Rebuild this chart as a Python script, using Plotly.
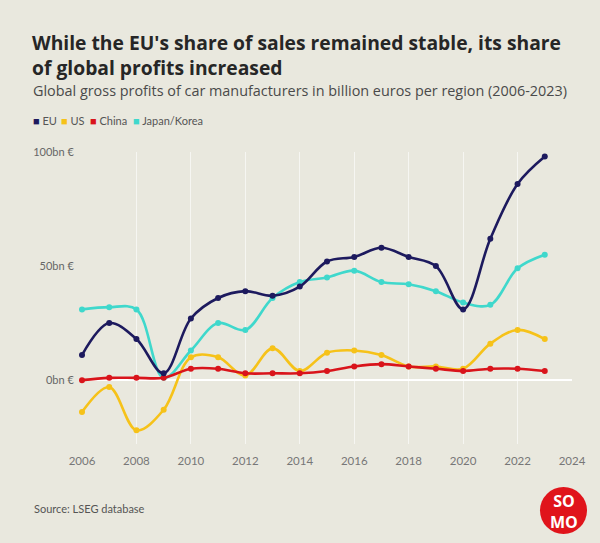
import plotly.graph_objects as go

years = list(range(2006, 2024))
eu = [11, 25, 18, 3, 27, 36, 39, 37, 41, 52, 54, 58, 54, 50, 31, 62, 86, 98]
us = [-14, -3, -22, -13, 10, 10, 2, 14, 4, 12, 13, 11, 6, 6, 5, 16, 22, 18]
china = [0, 1, 1, 1, 5, 5, 3, 3, 3, 4, 6, 7, 6, 5, 4, 5, 5, 4]
japan_korea = [31, 32, 31, 1, 13, 25, 22, 36, 43, 45, 48, 43, 42, 39, 34, 33, 49, 55]

y_ticks = [0, 50, 100]
y_labels = ["0bn €", "50bn €", "100bn €"]

colors = {"EU": "#1d1a5e", "US": "#f6c219", "China": "#d9141b", "Japan/Korea": "#3fd8cc"}
bg = "#e9e8de"
font = "Lato"
title_font = "Open Sans"

# plot area in pixels (600x543 page)
L, R, T, B = 82, 572, 152, 444
W, H = 600, 543


def px(x):
    return (x - L) / (R - L)


def py(y):
    return (B - y) / (B - T)


fig = go.Figure()
for name, vals in [("Japan/Korea", japan_korea), ("US", us), ("China", china), ("EU", eu)]:
    fig.add_trace(go.Scatter(
        x=years, y=vals, name=name, mode="lines+markers",
        line=dict(color=colors[name], width=2.6, shape="spline", smoothing=1),
        marker=dict(color=colors[name], size=6),
        cliponaxis=False, showlegend=False,
    ))

annotations = [
    dict(text="Global gross profits of car manufacturers in billion euros per region (2006-2023)",
         x=px(31), y=py(91), xanchor="left", yanchor="middle",
         font=dict(family=title_font, size=14.4, color="#4a4a4a")),
    dict(text="Source: LSEG database", x=px(32), y=py(508), xanchor="left", yanchor="middle",
         font=dict(family=font, size=11, color="#555555")),
    dict(text="<b>SO<br>MO</b>", x=px(563.5), y=py(511), xanchor="center", yanchor="middle",
         font=dict(family=title_font, size=16, color="white")),
]

# legend as coloured squares + labels
legend_pos = [("EU", 35), ("US", 63), ("China", 92), ("Japan/Korea", 135)]
for name, x0 in legend_pos:
    annotations.append(dict(
        text=f"<span style='color:{colors[name]}'>■</span> {name}",
        x=px(x0 - 4), y=py(121), xanchor="left", yanchor="middle",
        font=dict(family=font, size=11, color="#555555"),
    ))

for a in annotations:
    a.update(xref="paper", yref="paper", showarrow=False)

fig.update_layout(
    width=W, height=H,
    margin=dict(l=L, r=W - R, t=T, b=H - B),
    paper_bgcolor=bg, plot_bgcolor=bg,
    title=dict(
        text="<b>While the EU's share of sales remained stable, its share<br>of global profits increased</b>",
        x=32 / W, xanchor="left", xref="container",
        y=1 - 50 / H, yanchor="middle", yref="container",
        font=dict(family=title_font, size=19.3, color="#262626"),
    ),
    annotations=annotations,
    shapes=[dict(type="circle", xref="paper", yref="paper",
                 x0=px(540), x1=px(587), y0=py(487), y1=py(534),
                 fillcolor="#e0141b", line=dict(width=0), layer="above")],
    xaxis=dict(
        range=[2006, 2024], dtick=2, tick0=2006,
        showgrid=True, gridcolor="rgba(255,255,255,0.6)", gridwidth=1,
        zeroline=False, showline=False,
        ticks="outside", ticklen=6, tickcolor="rgba(0,0,0,0)",
        tickfont=dict(family=font, size=11.5, color="#777777"),
    ),
    yaxis=dict(
        range=[-28, 100], tickvals=y_ticks, ticktext=y_labels,
        showgrid=False, zeroline=True, zerolinecolor="white", zerolinewidth=1.5,
        showline=False,
        ticks="outside", ticklen=5, tickcolor="rgba(0,0,0,0)",
        tickfont=dict(family=font, size=11, color="#666666"),
    ),
)

# drop the browser's default page margin so the figure fills the window
fig.write_html("out.html", config={"displayModeBar": False},
               post_script="document.body.style.margin='0';")
